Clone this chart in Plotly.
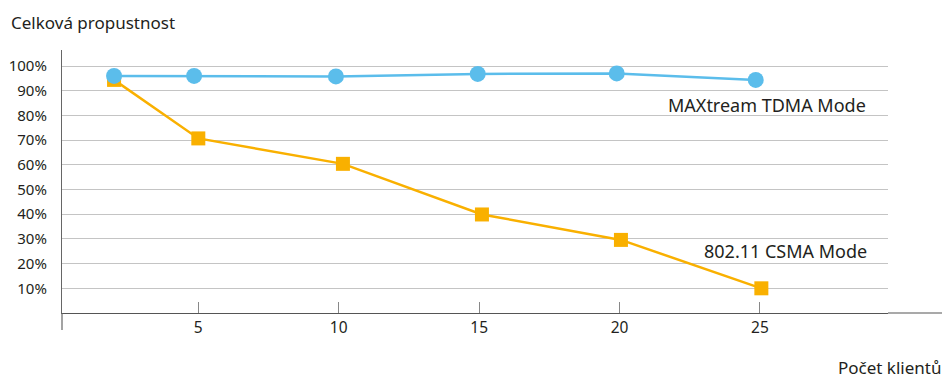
import plotly.graph_objects as go

# Data
tdma_x = [2, 4.85, 9.9, 14.95, 19.9, 24.85]
tdma_y = [96.0, 96.0, 95.8, 96.8, 97.0, 94.4]
csma_x = [2, 5, 10.15, 15.1, 20.05, 25.05]
csma_y = [94.4, 70.7, 60.4, 39.9, 29.6, 10.0]
x_ticks = [5, 10, 15, 20, 25]
y_ticks = [10, 20, 30, 40, 50, 60, 70, 80, 90, 100]
y_labels = [f"{v}%" for v in y_ticks]

BLUE = "#5bbdeb"
ORANGE = "#f9b000"
FONT = "Noto Sans, Open Sans, sans-serif"
TXT = "#231f20"

fig = go.Figure()
fig.add_trace(go.Scatter(
    x=csma_x, y=csma_y, mode="lines+markers",
    line=dict(color=ORANGE, width=2.5),
    marker=dict(symbol="square", size=14, color=ORANGE, line=dict(width=0)),
    showlegend=False, cliponaxis=False))
fig.add_trace(go.Scatter(
    x=tdma_x, y=tdma_y, mode="lines+markers",
    line=dict(color=BLUE, width=2.5),
    marker=dict(symbol="circle", size=16, color=BLUE, line=dict(width=0)),
    showlegend=False, cliponaxis=False))

fig.update_layout(
    width=950, height=388,
    margin=dict(l=54, r=70, t=42, b=83, autoexpand=False),
    paper_bgcolor="white", plot_bgcolor="white",
    font=dict(family=FONT, color=TXT),
    xaxis=dict(range=[0.146, 29.56], tickvals=x_ticks, ticks="inside", ticklen=11,
               tickcolor="#888", tickwidth=1, showgrid=False, zeroline=False,
               showline=True, linecolor="#555", linewidth=1.2, automargin=False,
               tickfont=dict(size=15.5, family=FONT, color=TXT), ticklabelstandoff=0),
    yaxis=dict(range=[0, 106.5], tickvals=y_ticks, ticktext=y_labels, ticks="",
               showgrid=True, gridcolor="#c4c4c4", gridwidth=1, zeroline=False,
               showline=True, linecolor="#666", linewidth=1.2, automargin=False,
               tickfont=dict(size=15, family=FONT, color=TXT), ticklabelstandoff=11),
    shapes=[
        dict(type="line", xref="paper", yref="paper", x0=1, x1=1.0654, y0=0, y1=0,
             line=dict(color="#555", width=1.2)),
        dict(type="line", xref="paper", yref="paper", x0=0, x1=0, y0=0, y1=-0.0646,
             line=dict(color="#666", width=1.2)),
    ],
    annotations=[
        dict(text="Celková propustnost", xref="paper", yref="paper", x=-0.0645, y=1.1046,
             xanchor="left", yanchor="middle", showarrow=False,
             font=dict(size=17, family=FONT, color=TXT)),
        dict(text="Počet klientů", xref="paper", yref="paper", x=1.067, y=-0.209,
             xanchor="right", yanchor="middle", showarrow=False,
             font=dict(size=17, family=FONT, color=TXT)),
        dict(text="MAXtream TDMA Mode", xref="x", yref="y", x=28.85, y=84.2,
             xanchor="right", yanchor="middle", showarrow=False,
             font=dict(size=18, family=FONT, color=TXT)),
        dict(text="802.11 CSMA Mode", xref="x", yref="y", x=28.88, y=25.2,
             xanchor="right", yanchor="middle", showarrow=False,
             font=dict(size=18, family=FONT, color=TXT)),
    ],
)

fig.write_html("out.html")
